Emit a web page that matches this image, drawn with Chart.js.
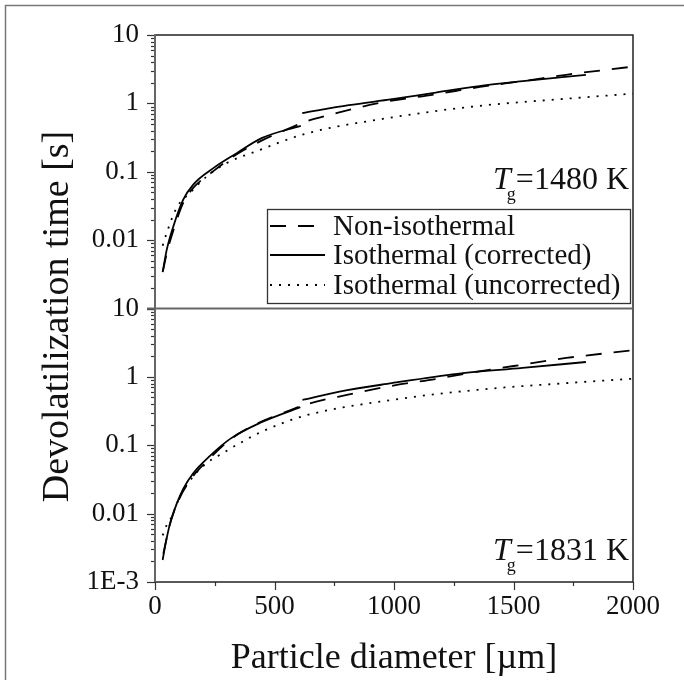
<!DOCTYPE html>
<html>
<head>
<meta charset="utf-8">
<script src="https://cdn.jsdelivr.net/npm/chart.js@4.4.1/dist/chart.umd.min.js"></script>
<style>
  html, body { margin: 0; padding: 0; background: #fff; }
</style>
</head>
<body>
<canvas id="devolChart" width="684" height="680"></canvas>
<script>
// particle diameter [um] vs devolatilization time [s]

// Tg = 1480 K (top panel)
const topNonIsoX = [33, 50, 77, 118, 160, 244, 342, 450, 540, 630, 740, 940, 1175, 1360, 1540, 1720, 2000];
const topNonIsoY = [0.0035, 0.0066, 0.014, 0.035, 0.058, 0.102, 0.18, 0.29, 0.40, 0.54, 0.69, 1.02, 1.36, 1.74, 2.12, 2.62, 3.45];
const topCorrX1 = [32, 49, 77, 118, 160, 244, 342, 446, 610];
const topCorrY1 = [0.0034, 0.0072, 0.016, 0.039, 0.065, 0.113, 0.187, 0.31, 0.47];
const topCorrX2 = [616, 811, 993, 1175, 1357, 1539, 1803];
const topCorrY2 = [0.72, 0.94, 1.15, 1.44, 1.79, 2.11, 2.61];
const topUncX = [32, 56, 91, 146, 216, 300, 425, 628, 993, 1357, 1721, 2000];
const topUncY = [0.0083, 0.015, 0.030, 0.049, 0.085, 0.134, 0.20, 0.358, 0.624, 0.92, 1.17, 1.39];

// Tg = 1831 K (bottom panel)
const botNonIsoX = [35, 60, 100, 150, 220, 320, 443, 540, 626, 808, 991, 1173, 1356, 1538, 1721, 2000];
const botNonIsoY = [0.0026, 0.0065, 0.016, 0.032, 0.06, 0.125, 0.22, 0.30, 0.39, 0.55, 0.74, 0.93, 1.2, 1.51, 1.89, 2.45];
const botCorrX1 = [32, 42, 63, 91, 118, 160, 230, 316, 443, 608];
const botCorrY1 = [0.0021, 0.0033, 0.0072, 0.014, 0.023, 0.039, 0.07, 0.125, 0.215, 0.36];
const botCorrX2 = [617, 772, 991, 1265, 1538, 1803];
const botCorrY2 = [0.46, 0.61, 0.81, 1.11, 1.35, 1.65];
const botUncX = [32, 49, 70, 105, 160, 216, 265, 350, 450, 626, 991, 1356, 1721, 2000];
const botUncY = [0.0048, 0.0068, 0.009, 0.018, 0.035, 0.055, 0.07, 0.105, 0.16, 0.27, 0.46, 0.65, 0.81, 0.94];

const seriesLabels = ['Non-isothermal', 'Isothermal (corrected)', 'Isothermal (uncorrected)'];
const panelTemps = ['1480', '1831'];

// ticks
const xTickValues = [0, 250, 500, 750, 1000, 1250, 1500, 1750, 2000];
const yDecades = [10, 1, 0.1, 0.01, 0.001];
const yLabelsTop = ['10', '1', '0.1', '0.01', ''];
const yLabelsBottom = ['10', '1', '0.1', '0.01', '1E-3'];

const FONT = '"Liberation Serif", "Times New Roman", serif';
Chart.defaults.font.family = FONT;

function pts(xs, ys) {
  return xs.map((x, i) => ({ x: x, y: ys[i] }));
}
// two pieces of one curve with a break between them
function broken(x1, y1, x2, y2) {
  return pts(x1, y1).concat([{ x: (x1[x1.length - 1] + x2[0]) / 2, y: null }], pts(x2, y2));
}

function isDecade(v) {
  const l = Math.log10(v);
  return Math.abs(l - Math.round(l)) < 1e-6;
}
function decadeLabel(v, labels) {
  const i = yDecades.findIndex(d => Math.abs(Math.log10(d) - Math.log10(v)) < 1e-6);
  return i < 0 ? '' : labels[i];
}
// 1..9 x 10^n from 1e-3 to 10
const logTicks = [];
for (let e = -3; e <= 0; e++) {
  for (let m = 1; m <= 9; m++) logTicks.push(+(m * Math.pow(10, e)).toPrecision(3));
}
logTicks.push(10);

const styles = [
  { borderDash: [16, 12] },
  { borderDash: [] },
  { borderDash: [2, 7] }
];

function line(label, data, axis, k) {
  return {
    label: label,
    data: data,
    yAxisID: axis,
    borderColor: '#000',
    borderWidth: 1.8,
    borderDash: styles[k].borderDash,
    borderCapStyle: 'butt',
    pointRadius: 0,
    fill: false,
    spanGaps: false,
    cubicInterpolationMode: 'monotone'
  };
}

function yScale(labels) {
  return {
    type: 'logarithmic',
    position: 'left',
    stack: 'panels',
    stackWeight: 1,
    min: 0.001,
    max: 10,
    afterBuildTicks: s => { s.ticks = logTicks.map(v => ({ value: v })); },
    afterFit: s => { s.width = 155; },
    grid: { display: false, drawTicks: false },
    border: { display: false },
    ticks: {
      autoSkip: false,
      padding: 16,
      color: '#111',
      font: { size: 27 },
      callback: v => decadeLabel(v, labels)
    }
  };
}

const decorations = {
  id: 'decorations',
  beforeDraw(chart) {
    const ctx = chart.ctx;
    ctx.save();
    ctx.fillStyle = '#fff';
    ctx.fillRect(0, 0, chart.width, chart.height);
    ctx.restore();
  },
  afterDraw(chart) {
    const ctx = chart.ctx;
    const ca = chart.chartArea;
    const yTop = chart.scales.yTop, yBot = chart.scales.yBottom, sx = chart.scales.x;
    ctx.save();

    // outer frame
    ctx.strokeStyle = '#777';
    ctx.lineWidth = 1.5;
    ctx.beginPath();
    ctx.moveTo(5.5, chart.height);
    ctx.lineTo(5.5, 5.5);
    ctx.lineTo(chart.width, 5.5);
    ctx.stroke();

    // tick marks
    ctx.strokeStyle = '#333';
    ctx.lineWidth = 1.2;
    [yTop, yBot].forEach(s => {
      s.ticks.forEach(t => {
        const p = Math.round(s.getPixelForValue(t.value)) + 0.5;
        const len = isDecade(t.value) ? 8 : 4;
        ctx.beginPath();
        ctx.moveTo(ca.left, p);
        ctx.lineTo(ca.left - len, p);
        ctx.stroke();
      });
    });
    sx.ticks.forEach(t => {
      const p = Math.round(sx.getPixelForValue(t.value)) + 0.5;
      const len = t.value % 500 === 0 ? 8 : 4;
      ctx.beginPath();
      ctx.moveTo(p, ca.bottom);
      ctx.lineTo(p, ca.bottom + len);
      ctx.stroke();
    });

    // plot frame
    ctx.strokeStyle = '#222';
    ctx.lineWidth = 1.5;
    ctx.strokeRect(ca.left, ca.top, ca.right - ca.left, ca.bottom - ca.top);
    ctx.strokeStyle = '#666';
    ctx.lineWidth = 2;
    ctx.beginPath();
    ctx.moveTo(ca.left, ca.top);
    ctx.lineTo(ca.left, ca.bottom);
    ctx.moveTo(ca.left - 8, yTop.bottom);
    ctx.lineTo(ca.right, yTop.bottom);
    ctx.stroke();

    // y title
    ctx.fillStyle = '#111';
    ctx.font = '38px ' + FONT;
    ctx.textAlign = 'center';
    ctx.textBaseline = 'alphabetic';
    ctx.translate(68, (ca.top + ca.bottom) / 2 + 8);
    ctx.rotate(-Math.PI / 2);
    ctx.fillText('Devolatilization time [s]', 0, 0);
    ctx.setTransform(chart.currentDevicePixelRatio, 0, 0, chart.currentDevicePixelRatio, 0, 0);

    // T_g annotations
    function tg(temp, right, base) {
      ctx.textAlign = 'left';
      ctx.textBaseline = 'alphabetic';
      ctx.font = '32px ' + FONT;
      const rest = '=' + temp + ' K';
      const wRest = ctx.measureText(rest).width;
      const x0 = right - wRest;
      ctx.fillText(rest, x0, base);
      ctx.font = '18px ' + FONT;
      const wg = ctx.measureText('g').width;
      ctx.fillText('g', x0 - wg, base + 11);
      ctx.font = 'italic 32px ' + FONT;
      const wT = ctx.measureText('T').width;
      ctx.fillText('T', x0 - wg - wT + 4, base);
    }
    tg(panelTemps[0], ca.right - 4, yTop.top + 154);
    tg(panelTemps[1], ca.right - 4, yBot.bottom - 22);

    // legend box
    const lx = 267, ly = 209, lw = 363, lh = 94;
    ctx.fillStyle = '#fff';
    ctx.fillRect(lx, ly, lw, lh);
    ctx.strokeStyle = '#333';
    ctx.lineWidth = 1.3;
    ctx.strokeRect(lx + 0.5, ly + 0.5, lw, lh);
    const rows = [ly + 17, ly + 46, ly + 76];
    chart.data.datasets.slice(0, 3).forEach((ds, i) => {
      ctx.strokeStyle = ds.borderColor;
      ctx.lineWidth = ds.borderWidth;
      ctx.setLineDash(ds.borderDash);
      ctx.beginPath();
      ctx.moveTo(lx + 3, rows[i]);
      ctx.lineTo(lx + 58, rows[i]);
      ctx.stroke();
      ctx.setLineDash([]);
      ctx.fillStyle = '#111';
      ctx.font = '29px ' + FONT;
      ctx.textAlign = 'left';
      ctx.textBaseline = 'alphabetic';
      ctx.fillText(ds.label, lx + 66, rows[i] + 9);
    });

    ctx.restore();
  }
};

new Chart(document.getElementById('devolChart'), {
  type: 'line',
  data: {
    datasets: [
      line(seriesLabels[0], pts(topNonIsoX, topNonIsoY), 'yTop', 0),
      line(seriesLabels[1], broken(topCorrX1, topCorrY1, topCorrX2, topCorrY2), 'yTop', 1),
      line(seriesLabels[2], pts(topUncX, topUncY), 'yTop', 2),
      line(seriesLabels[0], pts(botNonIsoX, botNonIsoY), 'yBottom', 0),
      line(seriesLabels[1], broken(botCorrX1, botCorrY1, botCorrX2, botCorrY2), 'yBottom', 1),
      line(seriesLabels[2], pts(botUncX, botUncY), 'yBottom', 2)
    ]
  },
  options: {
    responsive: false,
    animation: false,
    events: [],
    layout: { padding: { left: 0, top: 35, right: 51, bottom: 0 } },
    plugins: { legend: { display: false }, tooltip: { enabled: false } },
    scales: {
      x: {
        type: 'linear',
        min: 0,
        max: 2000,
        afterBuildTicks: s => { s.ticks = xTickValues.map(v => ({ value: v })); },
        afterFit: s => { s.height = 98; },
        grid: { display: false, drawTicks: false },
        border: { display: false },
        ticks: {
          autoSkip: false,
          maxRotation: 0,
          padding: 9,
          color: '#111',
          font: { size: 27 },
          callback: v => (v % 500 === 0 ? String(v) : '')
        },
        title: {
          display: true,
          text: 'Particle diameter [µm]',
          color: '#111',
          font: { size: 36 },
          padding: { top: 0, bottom: 0 }
        }
      },
      yBottom: yScale(yLabelsBottom),
      yTop: yScale(yLabelsTop)
    }
  },
  plugins: [decorations]
});
</script>
</body>
</html>
